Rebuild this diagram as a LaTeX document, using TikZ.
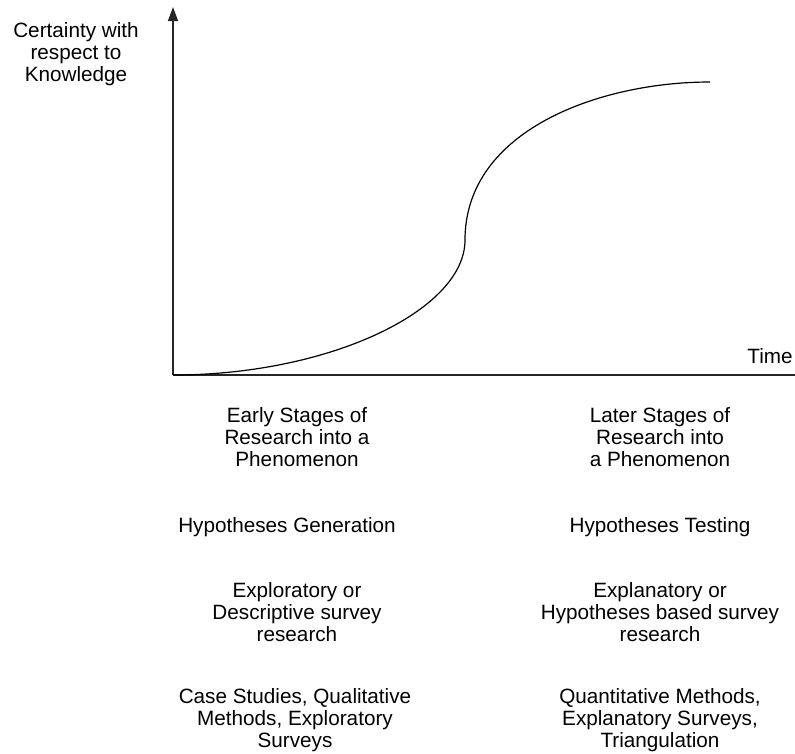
\documentclass[tikz,border=0pt]{standalone}
\usepackage{fontspec}
\setmainfont{Liberation Sans}
\usetikzlibrary{arrows.meta}
\begin{document}
\begin{tikzpicture}[x=1pt,y=-1pt,
  lbl/.style={align=center,inner sep=0pt,font=\fontsize{20.7}{22}\selectfont},
  axis/.style={line width=1.4pt,black!85},
  growth/.style={line width=1.2pt,black}]
\useasboundingbox (0,0) rectangle (795,753);
% axes
\coordinate (O) at (173,375);
\coordinate (ytop) at (173,7);
\coordinate (xend) at (795,375);
\draw[axis,-{Triangle[length=14pt,width=10pt]}] (O) -- (ytop);
\draw[axis] (O) -- (xend);
% knowledge curve
\coordinate (mid) at (465,240);
\coordinate (top) at (710,82);
\draw[growth] (O) .. controls (330,375) and (465,310) .. (mid)
  .. controls (465,130) and (600,82) .. (top);
% axis labels
\node[lbl] (ylabel) at (76,54) {Certainty with\\respect to\\Knowledge};
\node[lbl] (xlabel) at (770,356) {Time};
% early stages column
\node[lbl] (e1) at (297,437) {Early Stages of\\Research into a\\Phenomenon};
\node[lbl] (e2) at (287,527) {Hypotheses Generation};
\node[lbl] (e3) at (297,612) {Exploratory or\\Descriptive survey\\research};
\node[lbl] (e4) at (295,720) {Case Studies, Qualitative\\Methods, Exploratory\\Surveys};
% later stages column
\node[lbl] (l1) at (660,437) {Later Stages of\\Research into\\a Phenomenon};
\node[lbl] (l2) at (660,527) {Hypotheses Testing};
\node[lbl] (l3) at (660,612) {Explanatory or\\Hypotheses based survey\\research};
\node[lbl] (l4) at (660,720) {Quantitative Methods,\\Explanatory Surveys,\\Triangulation};
\end{tikzpicture}
\end{document}
